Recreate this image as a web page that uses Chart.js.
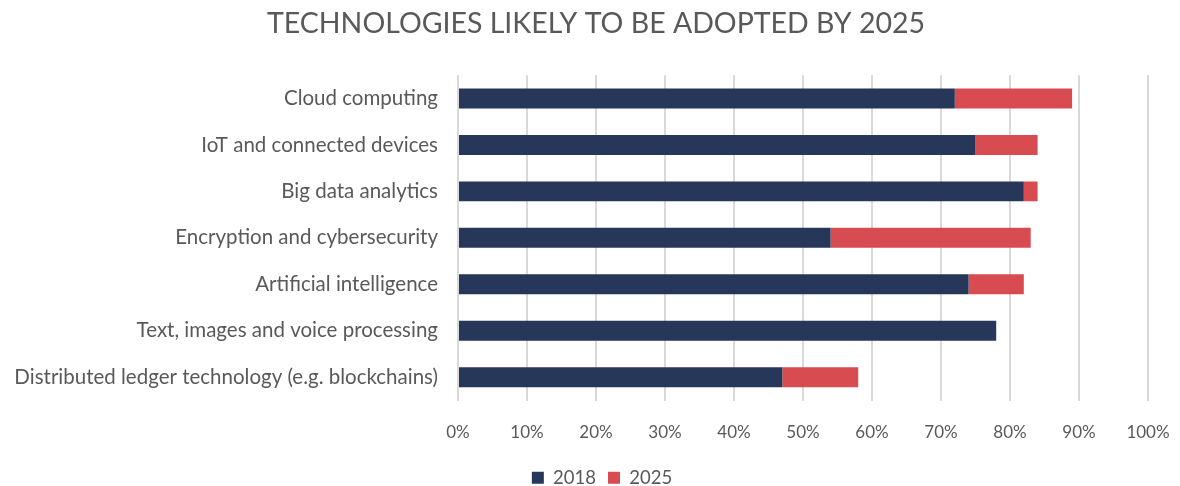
<!DOCTYPE html>
<html>
<head>
<meta charset="utf-8">
<title>Technologies likely to be adopted by 2025</title>
<script src="https://cdn.jsdelivr.net/npm/chart.js@4.4.1/dist/chart.umd.min.js"></script>
<style>
    html, body { margin: 0; padding: 0; background: #fff; }
    #wrap { width: 1180px; height: 486px; }
</style>
</head>
<body>
<div id="wrap"><canvas id="myChart"></canvas></div>
<script>
const categorias = [
    'Cloud computing',
    'IoT and connected devices',
    'Big data analytics',
    'Encryption and cybersecurity',
    'Artificial intelligence',
    'Text, images and voice processing',
    'Distributed ledger technology (e.g. blockchains)'
]
// 2018 share, and the extra share expected by 2025 (stacked on top)
const valores2018 = [72, 75, 82, 54, 74, 78, 47]
const valores2025 = [17, 9, 2, 29, 8, 0, 11]
const xTicks = [0, 10, 20, 30, 40, 50, 60, 70, 80, 90, 100]

const gris = '#595959'
const fuente = 'Lato, "Open Sans", sans-serif'

// nudge title and legend a bit to the right
const mover = {
    id: 'mover',
    afterLayout: (chart) => {
        chart.titleBlock.left += 17
        chart.titleBlock.right += 17
        chart.legend.left += 23
        chart.legend.right += 23
    }
}

const ctx = document.getElementById('myChart').getContext('2d')
const myChart = new Chart(ctx, {
    type: 'bar',
    data: {
        labels: categorias,
        datasets: [{
            label: '2018',
            data: valores2018,
            backgroundColor: '#27375a',
            borderWidth: 0
        },
        {
            label: '2025',
            data: valores2025,
            backgroundColor: '#d74b51',
            borderWidth: 0
        }]
    },
    options: {
        indexAxis: 'y',
        responsive: true,
        maintainAspectRatio: false,
        animation: false,
        datasets: {
            bar: { categoryPercentage: 1, barPercentage: 0.43 }
        },
        layout: {
            padding: { left: 10, right: 32, top: 0, bottom: -11 }
        },
        scales: {
            x: {
                stacked: true,
                min: 0,
                max: 100,
                afterBuildTicks: (scale) => {
                    scale.ticks = xTicks.map(v => ({ value: v }))
                },
                ticks: {
                    callback: (v) => v + '%',
                    color: gris,
                    font: { family: fuente, size: 17 },
                    padding: 22
                },
                grid: {
                    color: '#d9d9d9',
                    lineWidth: 2,
                    drawTicks: false
                },
                border: { display: false },
                afterFit: (scale) => {
                    scale.height = 56
                    scale.paddingLeft = 0
                    scale.paddingRight = 0
                }
            },
            y: {
                stacked: true,
                ticks: {
                    color: gris,
                    font: { family: fuente, size: 20.5 },
                    padding: 20
                },
                grid: { display: false, drawTicks: false },
                border: { display: false },
                afterFit: (scale) => {
                    scale.width = 448
                }
            }
        },
        plugins: {
            title: {
                display: true,
                text: 'TECHNOLOGIES LIKELY TO BE ADOPTED BY 2025',
                color: gris,
                font: { family: fuente, size: 28.5, weight: 'normal' },
                padding: { top: 7, bottom: 34 }
            },
            legend: {
                position: 'bottom',
                labels: {
                    color: gris,
                    font: { family: fuente, size: 18.5 },
                    boxWidth: 12,
                    boxHeight: 12,
                    padding: 12
                }
            },
            tooltip: { enabled: false }
        }
    },
    plugins: [mover]
})
</script>
</body>
</html>
